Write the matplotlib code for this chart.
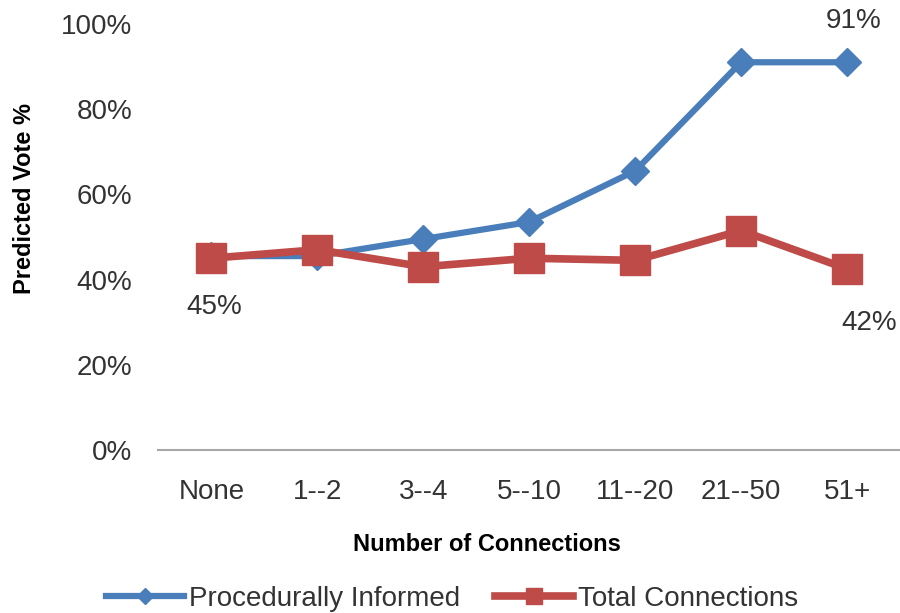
import matplotlib.pyplot as plt

# --- DATA ---
categories = ["None", "1--2", "3--4", "5--10", "11--20", "21--50", "51+"]
informed = [45.5, 45.5, 49.5, 53.5, 65.5, 91, 91]
total = [45, 47, 43, 45, 44.5, 51.5, 42.5]
yticks = [0, 20, 40, 60, 80, 100]

plt.rcParams['font.family'] = ['Liberation Sans', 'DejaVu Sans']
TXT = '#333333'

fig = plt.figure(figsize=(9, 6.13), dpi=100)
ax = fig.add_axes([0.176, 0.266, 0.824, 0.695])

x = list(range(len(categories)))
ax.plot(x, informed, color='#4a7ebb', linewidth=4.5, marker='D', markersize=14,
        label='Procedurally Informed', zorder=2)
ax.plot(x, total, color='#be4b48', linewidth=5.5, marker='s', markersize=21,
        label='Total Connections', zorder=3)

# data labels
ax.annotate("45%", (x[0], total[0]), xytext=(2, -35), textcoords='offset points',
            ha='center', va='center', fontsize=20, color=TXT)
ax.annotate("91%", (x[-1], informed[-1]), xytext=(5, 30), textcoords='offset points',
            ha='center', va='center', fontsize=20, color=TXT)
ax.annotate("42%", (x[-1], total[-1]), xytext=(16, -39), textcoords='offset points',
            ha='center', va='center', fontsize=20, color=TXT)

ax.set_xlim(-0.5, len(categories) - 0.5)
ax.set_ylim(0, 100)
ax.set_yticks(yticks)
ax.set_yticklabels([f"{v}%" for v in yticks], fontsize=20, color=TXT)
ax.set_xticks(x)
ax.set_xticklabels(categories, fontsize=20, color=TXT)
ax.tick_params(length=0)
ax.tick_params(axis='x', pad=21)
ax.tick_params(axis='y', pad=19)

for s in ['top', 'right', 'left']:
    ax.spines[s].set_visible(False)
ax.spines['bottom'].set_color('#a6a6a6')
ax.spines['bottom'].set_linewidth(1.5)

ax.set_ylabel("Predicted Vote %", fontsize=17, fontweight='bold')
ax.yaxis.set_label_coords(-0.18, 0.59)
ax.yaxis.label.set_va('center')
ax.set_xlabel("Number of Connections", fontsize=17, fontweight='bold')
ax.xaxis.set_label_coords(0.443, -0.223)
ax.xaxis.label.set_va('center')

leg = ax.legend(loc='center', bbox_to_anchor=(0.396, -0.35), ncol=2, frameon=False,
                fontsize=20, handlelength=2.8, columnspacing=1.25, handletextpad=0.18,
                markerscale=0.55, borderpad=0, borderaxespad=0)
for t in leg.get_texts():
    t.set_color(TXT)

fig.savefig("out.png", dpi=100)
